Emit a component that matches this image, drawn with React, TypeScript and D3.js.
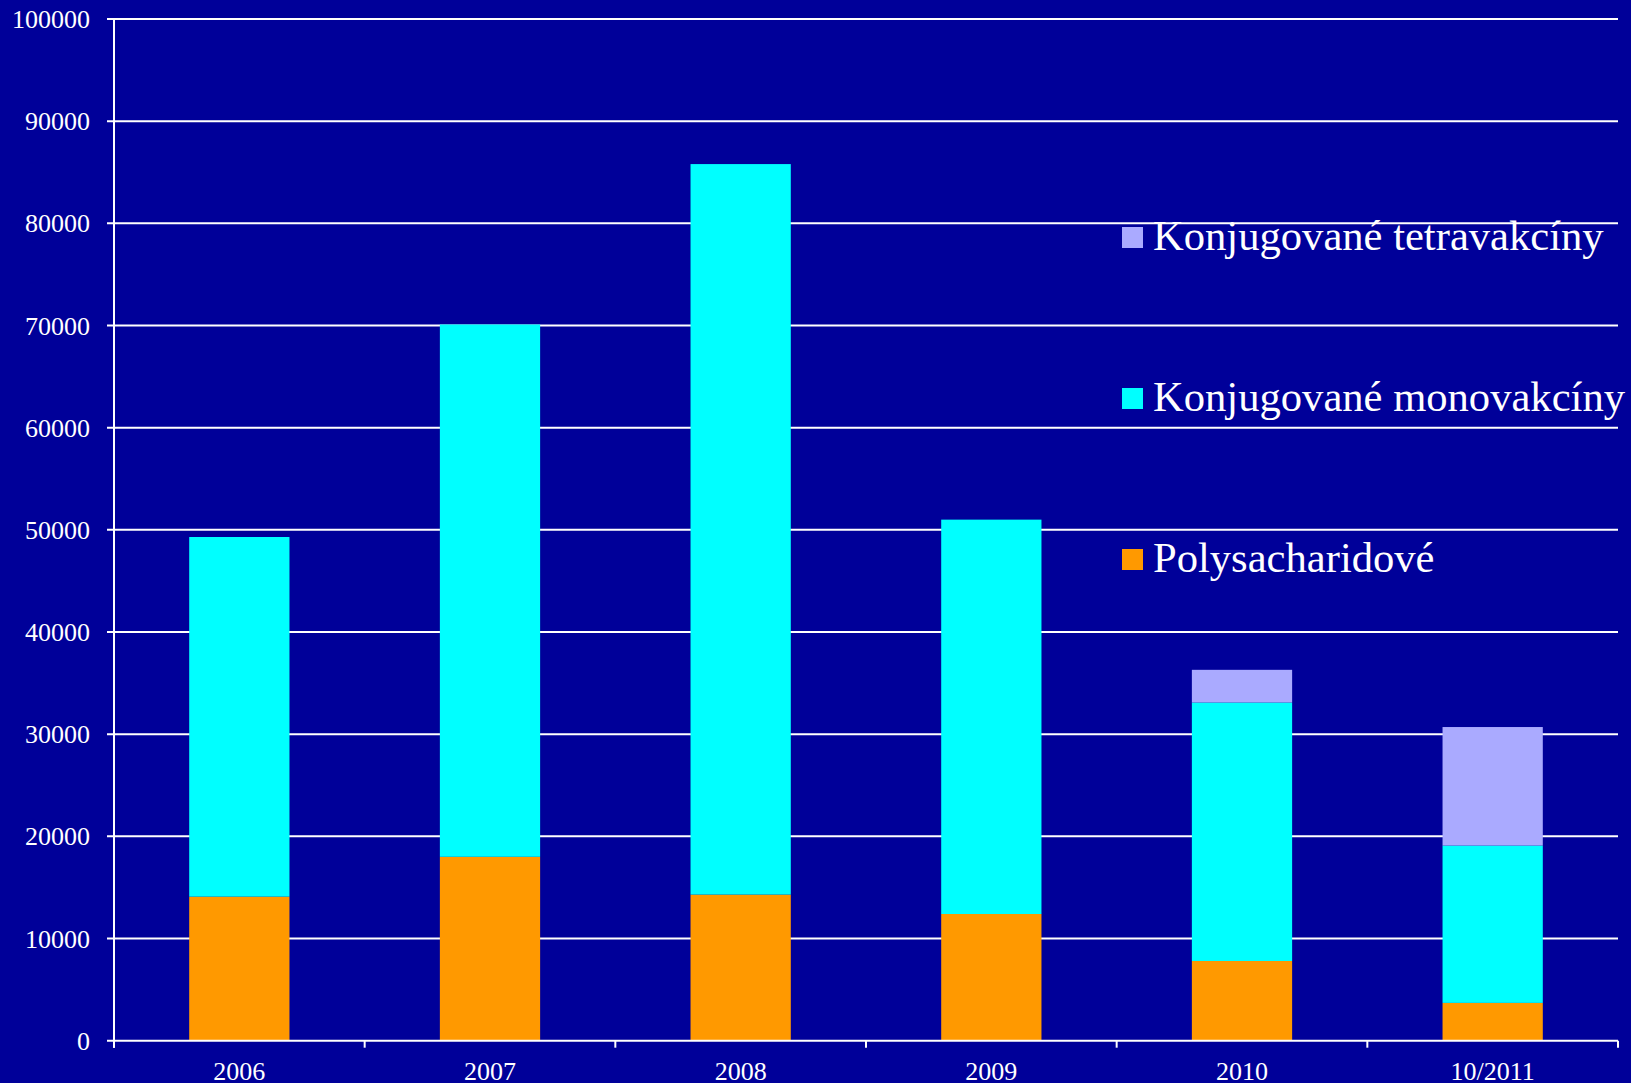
import React from "react";
import * as d3 from "d3";

const categories = ["2006", "2007", "2008", "2009", "2010", "10/2011"];
const polysacharidove = [14100, 18000, 14300, 12400, 7800, 3700];
const monovakciny = [35200, 52100, 71500, 38600, 25300, 15400];
const tetravakciny = [0, 0, 0, 0, 3200, 11600];
const yTicks = [0, 10000, 20000, 30000, 40000, 50000, 60000, 70000, 80000, 90000, 100000];

const seriesKeys = ["poly", "mono", "tetra"];
const seriesNames: Record<string, string> = {
  poly: "Polysacharidové",
  mono: "Konjugované monovakcíny",
  tetra: "Konjugované tetravakcíny",
};
const seriesColors: Record<string, string> = {
  poly: "#FF9900",
  mono: "#00FFFF",
  tetra: "#AAAAFF",
};
const legendOrder = ["tetra", "mono", "poly"];

const W = 1631;
const H = 1083;
const left = 114;
const right = 1618;
const top = 19;
const bottom = 1040.7;
const BG = "#000099";
const FONT = "'Liberation Serif', 'Times New Roman', serif";

export default function App() {
  const rows = categories.map((c, i) => ({
    cat: c,
    poly: polysacharidove[i],
    mono: monovakciny[i],
    tetra: tetravakciny[i],
  }));
  const stacked = d3.stack<any>().keys(seriesKeys)(rows);

  const x = d3
    .scaleBand<string>()
    .domain(categories)
    .range([left, right])
    .paddingInner(0.6)
    .paddingOuter(0.3);
  const y = d3.scaleLinear().domain([0, 100000]).range([bottom, top]);
  const step = x.step();
  const boundaries = d3.range(categories.length + 1).map((i) => left + i * step);

  const legendY = [250, 411, 572];

  return (
    <svg
      width={W}
      height={H}
      style={{ position: "absolute", left: 0, top: 0, display: "block" }}
    >
      <rect x={0} y={0} width={W} height={H} fill={BG} />
      {/* gridlines */}
      {yTicks.map((t) =>
        t === 0 ? null : (
          <line
            key={"g" + t}
            x1={107}
            x2={right}
            y1={y(t)}
            y2={y(t)}
            stroke="#ffffff"
            strokeWidth={2}
          />
        )
      )}
      {/* bars */}
      {stacked.map((s) => (
        <g key={s.key} fill={seriesColors[s.key]}>
          {s.map((d, i) =>
            d[1] - d[0] > 0 ? (
              <rect
                key={i}
                x={x(categories[i])}
                width={x.bandwidth()}
                y={y(d[1])}
                height={y(d[0]) - y(d[1])}
              />
            ) : null
          )}
        </g>
      ))}
      {/* axes */}
      <line x1={left} x2={left} y1={top} y2={bottom + 7} stroke="#fff" strokeWidth={2} />
      <line x1={107} x2={right} y1={bottom} y2={bottom} stroke="#fff" strokeWidth={2} />
      {boundaries.map((bx, i) => (
        <line key={"t" + i} x1={bx} x2={bx} y1={bottom} y2={bottom + 7} stroke="#fff" strokeWidth={2} />
      ))}
      {yTicks.map((t) => (
        <text
          key={"yl" + t}
          x={90}
          y={y(t) + 9}
          textAnchor="end"
          fill="#fff"
          fontFamily={FONT}
          fontSize={26}
        >
          {t}
        </text>
      ))}
      {categories.map((c) => (
        <text
          key={"xl" + c}
          x={(x(c) as number) + x.bandwidth() / 2}
          y={1080}
          textAnchor="middle"
          fill="#fff"
          fontFamily={FONT}
          fontSize={26}
        >
          {c}
        </text>
      ))}
      {/* legend */}
      {legendOrder.map((k, i) => (
        <g key={"lg" + k}>
          <rect x={1122} y={legendY[i] - 23} width={21} height={21} fill={seriesColors[k]} />
          <text x={1153} y={legendY[i]} fill="#fff" fontFamily={FONT} fontSize={42.6}>
            {seriesNames[k]}
          </text>
        </g>
      ))}
    </svg>
  );
}
